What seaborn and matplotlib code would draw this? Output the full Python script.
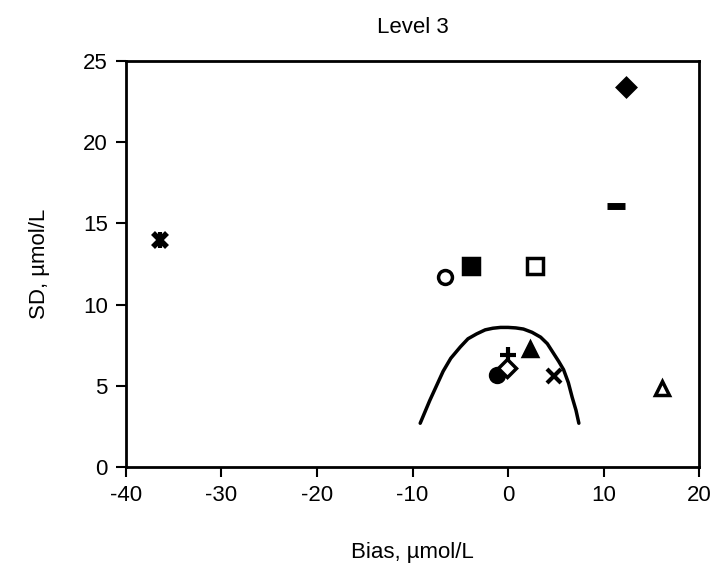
import numpy as np
import pandas as pd
import matplotlib
matplotlib.use("Agg")
import matplotlib.pyplot as plt
import seaborn as sns

# Lab results (bias and SD in umol/L)
bias = [-36.4, -6.6, -3.9, 2.8, 12.3, 11.3, 16.1, 0.0, 2.3, -1.2, -0.1, 4.8]
sd = [14.0, 11.7, 12.4, 12.4, 23.4, 16.1, 4.9, 6.9, 7.3, 5.7, 6.1, 5.6]
shapes = ["star", "circle", "square", "square", "diamond", "dash",
          "triangle", "plus", "triangle", "circle", "diamond", "x"]
filled = [True, False, True, False, True, True,
          False, True, True, True, False, True]

# Acceptance curve, points
curve_bias = [-9.2, -8.7, -8.2, -7.5, -6.8, -6.0, -5.0, -4.2, -3.3, -2.4, -1.6,
              -0.8, 0.0, 0.8, 1.6, 2.5, 3.4, 4.1, 4.7, 5.3, 5.8, 6.3, 6.7, 7.1, 7.4]
curve_sd = [2.7, 3.4, 4.1, 5.0, 5.9, 6.7, 7.4, 7.9, 8.2, 8.45, 8.55,
            8.6, 8.6, 8.57, 8.5, 8.3, 8.0, 7.6, 7.05, 6.5, 6.0, 5.2, 4.3, 3.5, 2.7]

x_ticks = [-40, -30, -20, -10, 0, 10, 20]
y_ticks = [0, 5, 10, 15, 20, 25]

sns.set_style("white")
plt.rcParams['font.family'] = ['Liberation Sans', 'DejaVu Sans']
plt.rcParams['axes.unicode_minus'] = False
plt.rcParams['text.color'] = 'black'

fig = plt.figure(figsize=(7.15, 5.71), dpi=100)
ax = fig.add_axes([0.176, 0.182, 0.802, 0.711])

curve = pd.DataFrame({"bias": curve_bias, "sd": curve_sd})
sns.lineplot(data=curve, x="bias", y="sd", sort=False, color="black",
             linewidth=2.5, ax=ax)

marker_map = {"circle": "o", "square": "s", "diamond": "D", "triangle": "^"}
size_map = {"circle": 10, "square": 11, "diamond": 9, "triangle": 10}

for x, y, shp, fill in zip(bias, sd, shapes, filled):
    if shp in marker_map:
        face = "black" if fill else "white"
        ax.plot(x, y, marker=marker_map[shp], ms=size_map[shp], mfc=face,
                mec="black", mew=2.5, ls="none", zorder=3)
    elif shp == "star":
        ax.plot(x, y, marker="x", ms=10, mec="black", mew=4, ls="none", zorder=3)
        ax.plot(x, y, marker="|", ms=11, mec="black", mew=3, ls="none", zorder=3)
    elif shp == "dash":
        ax.plot(x, y, marker="_", ms=13, mec="black", mew=5, ls="none", zorder=3)
    elif shp == "plus":
        ax.plot(x, y, marker="+", ms=12, mec="black", mew=3, ls="none", zorder=3)
    elif shp == "x":
        ax.plot(x, y, marker="x", ms=10, mec="black", mew=3, ls="none", zorder=3)

ax.set_xlim(-40, 20)
ax.set_ylim(0, 25)
ax.set_xticks(x_ticks)
ax.set_yticks(y_ticks)
ax.tick_params(axis="both", direction="out", length=7, width=1.5, pad=6,
               labelsize=16, colors="black", labelcolor="black",
               bottom=True, left=True)
for s in ax.spines.values():
    s.set_color("black")
    s.set_linewidth(2)

ax.set_xlabel("Bias, µmol/L", fontsize=16, labelpad=26, color="black")
ax.set_ylabel("SD, µmol/L", fontsize=16, labelpad=24, color="black")
ax.set_title("Level 3", fontsize=16, pad=20, color="black")

fig.savefig("out.png", dpi=100)
